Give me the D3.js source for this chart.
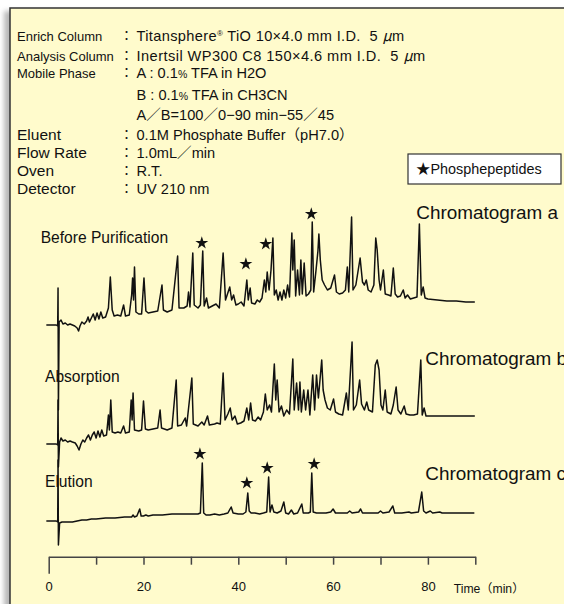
<!DOCTYPE html>
<html><head><meta charset="utf-8">
<script src="https://cdn.jsdelivr.net/npm/d3@7"></script>
<style>
html,body{margin:0;padding:0;background:#fff;}
svg{display:block;}
text{font-family:"Liberation Sans","Noto Sans CJK JP",Arial,sans-serif;fill:#111;white-space:pre;}
</style></head>
<body>
<svg id="c" width="564" height="604"></svg>
<script>
// ---------- data ----------
const conditionLabels = ["Enrich Column","Analysis Column","Mobile Phase","","","Eluent","Flow Rate","Oven","Detector"];
const conditionValues = ["Titansphere® TiO 10×4.0 mm I.D.  5 μm","Inertsil WP300 C8 150×4.6 mm I.D.  5 μm","A : 0.1% TFA in H2O","B : 0.1% TFA in CH3CN","A／B=100／0−90 min−55／45","0.1M Phosphate Buffer（pH7.0）","1.0mL／min","R.T.","UV 210 nm"];
const traceNames = ["Chromatogram a","Chromatogram b","Chromatogram c"];
const sampleNames = ["Before Purification","Absorption","Elution"];
const timeTicks = [0,10,20,30,40,50,60,70,80,90];
const timeTickLabels = ["0","","20","","40","","60","","80",""];
const legendLabel = "★Phosphepeptides";
const axisTitle = "Time（min）";

// chromatogram traces: [time (min), signal]
const traceA = [[-0.5,5],[1.6,5],[1.9,4],[1.97,42],[2.05,-80],[2.2,8],[2.6,10],[3,6],[3.5,7],[4,5],[4.5,6],[5,5],[5.5,4],[6,2],[6.3,-1],[6.6,4],[7,8],[7.5,6],[8,9],[8.3,13],[8.6,8],[9,12],[9.4,16],[9.8,10],[10.2,17],[10.6,11],[11,18],[11.4,12],[12,13],[12.6,22],[13.0,53],[13.4,20],[13.8,14],[14.5,15],[15.2,14],[15.8,25],[16.2,14],[17,15],[17.5,35],[17.7,52],[17.9,30],[18.1,63],[18.4,18],[19,16],[19.6,16],[20.1,52],[20.5,19],[21,17],[22,18],[23,19],[23.9,45],[24.2,20],[25,18],[26,20],[27.2,74],[27.5,22],[28.5,22],[29.2,24],[29.5,38],[29.8,23],[30.4,77],[30.7,25],[31.5,22],[32.0,25],[32.5,79],[32.8,24],[33.3,32],[33.7,22],[34.5,24],[35.3,26],[36,22],[36.8,77],[37.3,30],[38.2,43],[38.6,30],[39,35],[39.5,25],[40,26],[40.6,28],[41.2,24],[41.8,50],[42.1,30],[42.5,42],[42.8,27],[43.5,26],[44,30],[44.5,28],[45,32],[45.5,50],[45.8,38],[46.1,58],[46.5,40],[46.9,60],[47.3,92],[47.6,35],[48,40],[48.4,30],[48.8,38],[49.2,30],[49.6,40],[50,32],[50.4,45],[50.8,33],[51.3,97],[51.5,60],[51.8,90],[52.1,34],[52.5,60],[52.9,35],[53.2,70],[53.5,36],[53.9,67],[54.3,34],[54.8,36],[55.3,40],[55.6,108],[55.9,38],[56.4,60],[56.8,79],[57.0,96],[57.3,70],[57.7,50],[58.2,45],[58.8,40],[59.5,42],[60.3,55],[60.7,38],[61.3,36],[62,37],[62.6,40],[63.0,63],[63.3,38],[63.9,113],[64.2,40],[64.8,45],[65.7,72],[66.2,48],[66.6,45],[67,50],[67.4,40],[68,38],[68.6,45],[69.0,92],[69.3,80],[69.7,50],[70.0,40],[70.6,60],[71,36],[71.7,35],[72.2,34],[72.7,62],[73.1,36],[73.6,33],[74.2,34],[74.8,40],[75.2,32],[75.7,35],[76.3,31],[77,32],[77.7,33],[78.2,106],[78.6,35],[79.0,43],[79.4,32],[80,31],[82,30],[84,29],[86,29],[88,28],[89.9,28]];
const traceB = [[-0.5,6],[1.6,6],[1.9,5],[1.97,50],[2.05,-17],[2.3,8],[2.6,12],[3,9],[3.5,10],[4,8],[4.5,9],[5,8],[5.6,7],[6,4],[6.4,0],[6.8,6],[7.2,10],[7.6,8],[8,12],[8.4,15],[8.8,10],[9.2,15],[9.6,18],[10,12],[10.4,19],[10.8,13],[11.2,20],[11.6,14],[12.2,15],[12.6,35],[12.8,20],[13.1,50],[13.4,18],[14,17],[14.6,18],[15.2,17],[15.8,24],[16.2,17],[17,18],[17.4,50],[17.6,30],[17.8,57],[18.1,20],[19,19],[19.6,20],[20.0,49],[20.4,21],[21,20],[22,21],[23,22],[23.5,40],[23.8,22],[25,20],[26,22],[26.9,70],[27.2,24],[28,25],[28.8,32],[29.1,24],[30.2,72],[30.5,26],[31.5,24],[32.3,28],[32.8,25],[33.5,34],[33.9,25],[35,26],[35.5,27],[36.2,26],[36.8,77],[37.2,30],[37.8,36],[38.3,42],[38.7,30],[39.3,34],[39.8,26],[40.5,27],[41.2,29],[41.8,42],[42.2,30],[42.6,47],[43,30],[43.6,29],[44.2,33],[44.7,30],[45.3,38],[45.7,56],[46.1,40],[46.6,45],[47.0,38],[47.6,86],[47.9,50],[48.2,70],[48.6,38],[49.1,44],[49.6,34],[50.2,40],[50.8,36],[51.2,67],[51.5,91],[51.8,40],[52.3,67],[52.7,40],[53.0,68],[53.3,38],[53.8,60],[54.2,40],[54.7,60],[55.1,35],[55.7,75],[56.1,40],[56.5,75],[56.9,52],[57.6,90],[57.9,60],[58.3,50],[58.8,42],[59.4,40],[60.1,51],[60.5,38],[61.2,36],[62,35],[62.8,57],[63.2,40],[64.0,108],[64.3,40],[64.9,45],[65.6,70],[66,46],[66.6,40],[67.1,48],[67.5,40],[68.3,38],[68.9,85],[69.3,90],[69.7,80],[70.1,45],[70.5,40],[71,60],[71.4,38],[72.2,36],[72.7,45],[73.3,63],[73.7,40],[74.3,36],[75.0,44],[75.4,36],[76.2,35],[77,35],[77.8,36],[78.5,90],[78.8,35],[79.2,42],[79.6,34],[81,34],[84,34],[87,34],[89.9,34]];
const traceC = [[-0.5,4],[1.6,4],[1.9,3],[1.97,65],[2.05,-20],[2.3,2],[2.8,3],[4,3],[5,3],[6,4],[7,5],[8,5],[9,6],[10,6],[12,7],[14,7],[16,8],[17.5,8],[17.8,10],[18.1,8],[18.6,9],[19.2,16],[19.5,9],[20,9],[20.5,10],[21,9],[22,10],[24,10],[26,11],[28,11],[30,11],[31.5,11],[32.0,12],[32.4,62],[32.7,12],[33.2,10],[34,10],[35,11],[36,10],[37,11],[37.8,12],[38.5,18],[38.9,12],[40,11],[41,11],[41.6,13],[42.0,32],[42.3,14],[42.7,12],[43.5,12],[44.5,11],[45.3,12],[46.0,13],[46.4,48],[46.7,13],[47.1,20],[47.5,13],[48.2,12],[49.0,14],[49.6,23],[50,12],[50.6,11],[51.2,15],[51.7,11],[52.5,12],[53.4,21],[53.7,12],[54.8,12],[55.2,13],[55.5,52],[55.8,13],[56.5,12],[57.5,12],[58.5,12],[59.5,13],[60,16],[60.5,12],[61.5,12],[63,12],[63.5,14],[64,12],[65.4,13],[65.8,16],[66.2,12],[67.5,12],[69.5,12],[70,14],[70.5,12],[71.8,13],[72.6,19],[73,12],[74.5,12],[76,13],[76.5,12],[78,13],[78.7,33],[79.1,14],[79.6,12],[80.5,14],[81,12],[82.5,13],[83,12],[86,12],[89.8,12]];
// phosphopeptide markers: [time, signal] on traces a and c
const starsA = [[32.3,87],[41.6,66],[45.8,86],[55.4,116]];
const starsC = [[31.9,71],[41.8,42],[46.1,57],[56.0,61]];

// ---------- layout ----------
const svg = d3.select("#c");
const defs = svg.append("defs");
const f = defs.append("filter").attr("id","sh").attr("x","-10%").attr("y","-10%").attr("width","120%").attr("height","120%");
f.append("feGaussianBlur").attr("stdDeviation",2.5);
svg.append("rect").attr("x",4).attr("y",11).attr("width",640).attr("height",700).attr("fill","#b8b8b8").attr("filter","url(#sh)");
svg.append("rect").attr("x",10).attr("y",8).attr("width",640).attr("height",700).attr("fill","#fffbcc").attr("stroke","#333").attr("stroke-width",1.5);

// condition text
const rowY = [40.7,60.7,78,100,119.5,140,157.5,176,193.5];
const labelSize = [13,13,13,13,13,15.5,15.5,15.5,15.5];
const rowSpacing = [0.35,0.45,0,0,0,0,0,0,0];
const g0 = svg.append("g");
conditionLabels.forEach((t,i)=>{
  if(t) g0.append("text").attr("x",17).attr("y",rowY[i]).attr("font-size",labelSize[i]).text(t);
  if(i<3 || i>4) g0.append("text").attr("x",120).attr("y",rowY[i]-1).attr("font-size",13).attr("font-family","Noto Sans CJK JP").text("：");
  const tv = g0.append("text").attr("x",136.5).attr("y",rowY[i]).attr("font-size",14.6).attr("letter-spacing",rowSpacing[i]);
  const parts = conditionValues[i].split(/(®|%|μ)/).filter(p=>p);
  let raised = false;
  parts.forEach(p=>{
    const ts = tv.append("tspan");
    let dy = 0;
    if(p==="®"){ ts.attr("font-size",8); dy = -5; raised = true; }
    else { if(raised){ dy = 5; raised=false; } }
    if(p==="%") ts.attr("font-size",10.5);
    if(p==="μ") ts.attr("font-family","Noto Sans CJK JP").attr("font-style","italic");
    if(dy) ts.attr("dy",dy);
    ts.text(p);
  });
});

// legend
svg.append("rect").attr("x",408).attr("y",154).attr("width",153).attr("height",30).attr("fill","#fff").attr("stroke","#333").attr("stroke-width",1.2);
svg.append("text").attr("x",416).attr("y",173.8).attr("font-size",14.4).text(legendLabel);

// scales
const x = d3.scaleLinear().domain([0,90]).range([48.7,475.3]);
const y = d3.scaleLinear().domain([0,100]).range([0,-100]);
const zeros = [330,450,525];
const traces = [traceA,traceB,traceC];
const line = d3.line().x(d=>x(d[0])).y(d=>y(d[1]));

traces.forEach((tr,i)=>{
  const g = svg.append("g").attr("transform",`translate(0,${zeros[i]})`);
  g.append("path").datum(tr).attr("d",line).attr("fill","none").attr("stroke","#111").attr("stroke-width",1.5).attr("stroke-linejoin","round");
});

const star = d3.symbol().type(d3.symbolStar).size(52);
[[starsA,0],[starsC,2]].forEach(([s,i])=>{
  const g = svg.append("g").attr("transform",`translate(0,${zeros[i]})`);
  g.selectAll("path").data(s).join("path").attr("d",star)
   .attr("transform",d=>`translate(${x(d[0])},${y(d[1])})`).attr("fill","#111");
});

// labels
const nameX=[416.3,425.3,425.3], nameY=[219,364.5,479.5];
traceNames.forEach((t,i)=>svg.append("text").attr("x",nameX[i]).attr("y",nameY[i]).attr("font-size",18.9).text(t));
const sX=[40.7,45,45], sY=[243,382,487];
sampleNames.forEach((t,i)=>svg.append("text").attr("x",sX[i]).attr("y",sY[i]).attr("font-size",15.6).text(t));

// axis
const ax = svg.append("g").attr("transform","translate(0,556.7)")
 .call(d3.axisBottom(x).tickValues(timeTicks).tickSize(8).tickSizeOuter(0).tickFormat((d,i)=>timeTickLabels[i]));
ax.select(".domain").attr("stroke","#444").attr("stroke-width",1.5);
ax.selectAll(".tick line").attr("stroke","#444").attr("stroke-width",1.5);
ax.selectAll(".tick").filter(d=>d===0).select("line").attr("y2",17);
ax.selectAll(".tick text").attr("y",25.5).attr("font-size",13).attr("fill","#222")
  .attr("font-family","Liberation Sans, Arial, sans-serif");
svg.append("text").attr("x",453.7).attr("y",593).attr("font-size",12.2).attr("fill","#222").text(axisTitle);
</script>
</body></html>
